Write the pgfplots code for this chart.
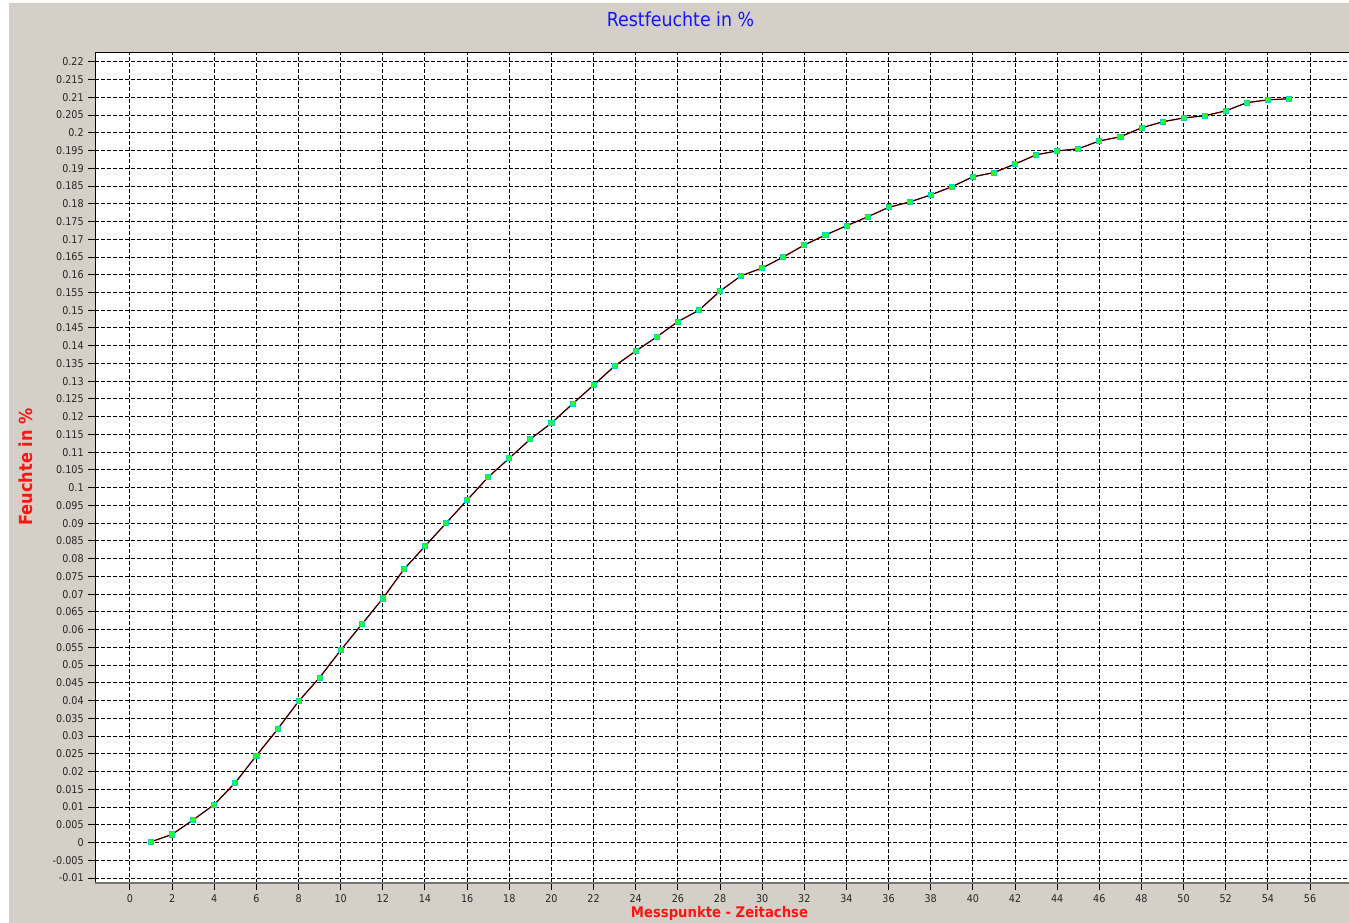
\documentclass[border=0pt]{standalone}
\usepackage{fontspec}
\setmainfont{DejaVu Sans Condensed}
\usepackage{pgfplots}
\usepackage{pgfplotstable}
\pgfplotsset{compat=1.18}
\definecolor{bg}{RGB}{212,208,200}
\definecolor{ttl}{RGB}{20,20,255}
\definecolor{lbl}{RGB}{255,20,20}
\definecolor{mk}{RGB}{40,255,40}
\definecolor{mkb}{RGB}{0,215,195}
\pgfplotstableread{
x y
1 0.0002
2 0.0023
3 0.0064
4 0.0107
5 0.0169
6 0.0245
7 0.0319
8 0.0398
9 0.0465
10 0.0542
11 0.0615
12 0.0688
13 0.0770
14 0.0835
15 0.0900
16 0.0965
17 0.1030
18 0.1083
19 0.1137
20 0.1182
21 0.1236
22 0.1289
23 0.1343
24 0.1385
25 0.1425
26 0.1468
27 0.1500
28 0.1554
29 0.1597
30 0.1619
31 0.1650
32 0.1684
33 0.1712
34 0.1738
35 0.1763
36 0.1790
37 0.1805
38 0.1825
39 0.1848
40 0.1876
41 0.1888
42 0.1912
43 0.1938
44 0.1949
45 0.1955
46 0.1977
47 0.1989
48 0.2014
49 0.2031
50 0.2042
51 0.2048
52 0.2062
53 0.2085
54 0.2093
55 0.2096
}\data
\begin{document}
\begin{tikzpicture}[x=1pt,y=1pt]
\fill[white] (0,0) rectangle (1011.75,692.25);
\fill[bg] (6.75,0) rectangle (1011.75,690);
\begin{axis}[name=ax, at={(71.25pt,30pt)}, anchor=south west, scale only axis,
 width=940.5pt, height=622.5pt,
 xmin=-1.66, xmax=57.85, ymin=-0.0114, ymax=0.2225,
 axis background/.style={fill=white},
 axis line style={draw=none},
 xtick={0,2,...,56}, ytick={-0.01,-0.005,...,0.221},
 xtick pos=bottom, ytick pos=left, tick align=outside,
 major tick length=5pt,
 tick style={black, line width=0.75pt},
 grid=major, grid style={black, line width=0.75pt, dash pattern=on 3pt off 1.5pt},
 ticklabel style={font=\fontsize{8}{9}\selectfont, text=black!85},
 /pgf/number format/assume math mode=true,
 scaled y ticks=false,
 yticklabel style={/pgf/number format/fixed,/pgf/number format/precision=3,/pgf/number format/1000 sep={}},
 clip=false,
]
\addplot[red!85!black, line width=0.95pt, forget plot] table[x=x,y=y] {\data};
\addplot[black, line width=0.6pt, mark=square*, mark size=1.9pt,
  mark options={fill=mk, draw=mkb, line width=0.6pt, solid}] table[x=x,y=y] {\data};
\end{axis}
\draw[black, line width=0.75pt] (ax.south west) -- (ax.north west) -- (ax.north east);
\draw[black!55, line width=1.5pt] (ax.south west) -- (ax.south east);
\node[text=ttl, font=\fontsize{14.5}{16}\selectfont] at (510.4,677.5) {Restfeuchte in \%};
\node[text=lbl, font=\bfseries\fontsize{11}{13}\selectfont] at (539.6,7.5) {Messpunkte - Zeitachse};
\node[text=lbl, font=\bfseries\fontsize{13.5}{15}\selectfont, rotate=90] at (19.5,342) {Feuchte in \%};
\pgfresetboundingbox
\useasboundingbox (0,0) rectangle (1011.75,692.25);
\end{tikzpicture}
\end{document}
